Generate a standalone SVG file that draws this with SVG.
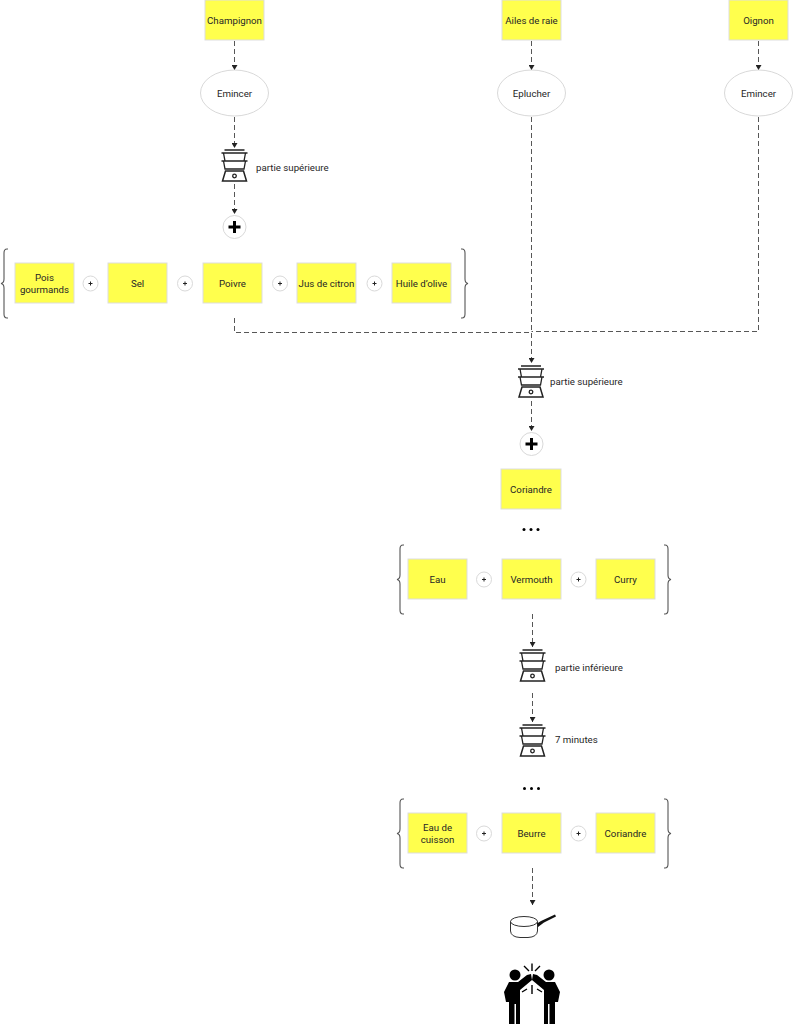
<svg xmlns="http://www.w3.org/2000/svg" width="793" height="1024" viewBox="0 0 793 1024">
<style>
text{font-family:Roboto,"Noto Sans",sans-serif;font-size:9.7px;fill:#262626;text-anchor:middle;dominant-baseline:central}
.n{fill:#ffff4d;stroke:#ddd;stroke-width:1}
.e{fill:#fff;stroke:#d9d9d9;stroke-width:1}
.c{fill:none;stroke:#444;stroke-width:.9;stroke-dasharray:5 3}
.b{fill:none;stroke:#555;stroke-width:1.1}
.s{fill:none;stroke:#222;stroke-width:1.3}
.t{text-anchor:start}
</style>
<defs>
<marker id="a" markerWidth="6" markerHeight="6" refX="5" refY="3" orient="auto" markerUnits="userSpaceOnUse"><path d="M0 0L5 3L0 6z" fill="#222"/></marker>
<g id="st" class="s"><path d="M-10 0H10M-13 3H13M-11 3L-9.500 11H9.500L11 3M-13 11H13M-11 11L-9.500 19H9.500L11 11"/><path d="M-9 21H9L12 31H-12z" stroke-width="1.500"/><circle cx="0" cy="26" r="1.800"/></g>
<g id="bl"><path class="b" d="M8 0H7Q4 0 4 4V30Q4 34 1 34.500Q4 35 4 39V65Q4 69 7 69H8"/></g>
<g id="br"><path class="b" d="M0 0H1Q4 0 4 4V30Q4 34 7 34.500Q4 35 4 39V65Q4 69 1 69H0"/></g>
<g id="sp"><circle class="e" r="7.500"/><path d="M-2 0H2M0 -2V2" stroke="#222" stroke-width="1"/></g>
<g id="bp"><circle class="e" r="11.500"/><path d="M-6 0H6M0 -6V6" stroke="#000" stroke-width="3"/></g>
<g id="d"><circle cx="-7" r="1.500"/><circle r="1.500"/><circle cx="7" r="1.500"/></g>
</defs>
<g id="connectors">
<path class="c" marker-end="url(#a)" d="M234.500 41V70"/>
<path class="c" marker-end="url(#a)" d="M234.500 117V148"/>
<path class="c" marker-end="url(#a)" d="M234.500 184V214"/>
<path class="c" marker-end="url(#a)" d="M531.500 41V70"/>
<path class="c" marker-end="url(#a)" d="M758.500 41V70"/>
<path class="c" marker-end="url(#a)" d="M531.500 117V363"/>
<path class="c" d="M234.500 318V332.500H531.500"/>
<path class="c" d="M758.500 117V331.500H531.500"/>
<path class="c" marker-end="url(#a)" d="M531.500 401V431"/>
<path class="c" marker-end="url(#a)" d="M532.500 614V647"/>
<path class="c" marker-end="url(#a)" d="M532.500 693V722"/>
<path class="c" marker-end="url(#a)" d="M532.500 868V905"/>
</g>
<g id="n-champignon"><rect class="n" x="205" y="0" width="59" height="40"/><text x="234.500" y="20">Champignon</text></g>
<g id="n-ailes"><rect class="n" x="502" y="0" width="59" height="40"/><text x="531.500" y="20">Ailes de raie</text></g>
<g id="n-oignon"><rect class="n" x="729" y="0" width="59" height="40"/><text x="758.500" y="20">Oignon</text></g>
<g id="n-emincer1"><ellipse class="e" cx="234.500" cy="93" rx="34" ry="23"/><text x="234.500" y="93">Emincer</text></g>
<g id="n-eplucher"><ellipse class="e" cx="531.500" cy="93" rx="34" ry="23"/><text x="531.500" y="93">Eplucher</text></g>
<g id="n-emincer2"><ellipse class="e" cx="758.500" cy="93" rx="34" ry="23"/><text x="758.500" y="93">Emincer</text></g>
<g id="n-steam1"><use href="#st" x="234.500" y="150"/><text class="t" x="256" y="167">partie supérieure</text></g>
<g id="n-plus1"><use href="#bp" x="234.500" y="227"/></g>
<g id="n-group1">
<use href="#bl" x="0" y="249"/><use href="#br" x="461" y="249"/>
<rect class="n" x="15" y="263" width="59" height="40"/><text x="44.500" y="277">Pois</text><text x="44.500" y="289">gourmands</text>
<use href="#sp" x="90.500" y="283.500"/>
<rect class="n" x="108" y="263" width="59" height="40"/><text x="137.500" y="283">Sel</text>
<use href="#sp" x="185" y="283.500"/>
<rect class="n" x="203" y="263" width="59" height="40"/><text x="232.500" y="283">Poivre</text>
<use href="#sp" x="280" y="283.500"/>
<rect class="n" x="297" y="263" width="59" height="40"/><text x="326.500" y="283">Jus de citron</text>
<use href="#sp" x="374.500" y="283.500"/>
<rect class="n" x="392" y="263" width="59" height="40"/><text x="421.500" y="283">Huile d’olive</text>
</g>
<g id="n-steam2"><use href="#st" x="531" y="366"/><text class="t" x="550" y="381">partie supérieure</text></g>
<g id="n-plus2"><use href="#bp" x="531.500" y="444"/></g>
<g id="n-coriandre"><rect class="n" x="501" y="469" width="60" height="40"/><text x="531" y="489">Coriandre</text></g>
<g id="n-dots1"><use href="#d" x="531" y="529.500"/></g>
<g id="n-group2">
<use href="#bl" x="396" y="545"/><use href="#br" x="664" y="545"/>
<rect class="n" x="408" y="559" width="59" height="40"/><text x="437.500" y="579">Eau</text>
<use href="#sp" x="484" y="579.500"/>
<rect class="n" x="502" y="559" width="59" height="40"/><text x="531.500" y="579">Vermouth</text>
<use href="#sp" x="578.500" y="579.500"/>
<rect class="n" x="596" y="559" width="59" height="40"/><text x="625.500" y="579">Curry</text>
</g>
<g id="n-steam3"><use href="#st" x="532.500" y="650"/><text class="t" x="555" y="667">partie inférieure</text></g>
<g id="n-steam4"><use href="#st" x="532.500" y="725"/><text class="t" x="555" y="739">7 minutes</text></g>
<g id="n-dots2"><use href="#d" x="531.500" y="788.500"/></g>
<g id="n-group3">
<use href="#bl" x="396" y="799"/><use href="#br" x="664" y="799"/>
<rect class="n" x="408" y="813" width="59" height="40"/><text x="437.500" y="827">Eau de</text><text x="437.500" y="839">cuisson</text>
<use href="#sp" x="484" y="833.500"/>
<rect class="n" x="502" y="813" width="59" height="40"/><text x="531.500" y="833">Beurre</text>
<use href="#sp" x="578.500" y="833.500"/>
<rect class="n" x="596" y="813" width="59" height="40"/><text x="625.500" y="833">Coriandre</text>
</g>
<g id="n-pot">
<ellipse cx="524" cy="921.500" rx="13.500" ry="5" fill="#fff" stroke="#333" stroke-width="1"/>
<path d="M510.500 921.500V931Q511 937 520 937.500H528Q537 937 537.500 931V921.500" fill="none" stroke="#333" stroke-width="1"/>
<path d="M537 923.500L541 921L555 914.500L556 916.500L544 922.500L538 927z" fill="#111"/>
</g>
<g id="n-people" fill="#000">
<circle cx="515" cy="975" r="5.500"/><circle cx="549" cy="975" r="5.500"/>
<path d="M509 982H518L527 975L531 974L532 980L520 990V1024H516V1004H514.500V1024H509V1002H506L504 992z"/>
<path d="M555 982H546L537 975L533 974L532 980L544 990V1024H548V1004H549.500V1024H555V1002H558L560 992z"/>
<path d="M532 963.500V971M524 966L529 971M540 966L535 971M522 992L527 989M542 992L537 989M532 985V994" stroke="#000" stroke-width="1.400" fill="none"/>
</g>
</svg>
